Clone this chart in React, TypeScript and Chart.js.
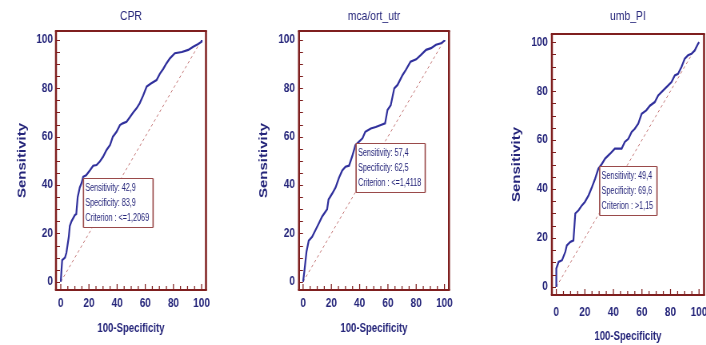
import React, { useEffect, useRef } from 'react';
import { Chart, registerables } from 'chart.js';

Chart.register(...registerables);

// ---------------- data ----------------
const cprX = [0, 0.5, 1, 3, 4, 5.7, 6.4, 7.6, 10, 11, 12, 13.5, 14.7, 15.9, 18, 20.6, 23, 25.4, 27.7, 30, 32.5, 35, 37, 39.6, 42, 44, 46.7, 49, 51.4, 53.8, 56, 58.5, 61, 64, 68, 70.3, 72.7, 75, 77.5, 81, 86, 90.5, 94, 97.6, 100, 100];
const cprY = [0, 4.8, 9, 10, 12, 18.6, 23, 25, 27.6, 28, 35, 39, 40.7, 43.4, 44, 46, 48, 48.3, 49.7, 51.7, 54.5, 56.6, 60, 62, 64.8, 65.5, 66.2, 68, 70, 71.7, 73.8, 77, 80.7, 82, 83.4, 86, 88, 90.3, 92.4, 94.5, 95, 95.9, 97.2, 98.3, 99.3, 100];

const mcaX = [0, 1, 2.4, 4, 6.4, 8.8, 11, 13.5, 17, 18, 20.6, 23, 25.4, 27.7, 30, 32.5, 34.8, 37, 39.6, 42, 44, 47.9, 51.4, 55, 58, 59.7, 62, 64.5, 66.8, 70.4, 72.7, 76, 80, 83.4, 87, 90.5, 94, 97.6, 100, 100];
const mcaY = [0, 4.8, 12.4, 17, 18.6, 21.4, 24, 27, 30, 34, 36.5, 39, 43, 46, 47.6, 48, 52, 56.5, 58, 59.3, 62, 63.4, 64, 64.8, 65.5, 71, 73, 80, 81.4, 85.5, 87.6, 91, 92, 93.8, 95.9, 96.6, 98, 98.6, 99.7, 100];

const umbX = [0, 0, 1.6, 4, 6.3, 7.4, 9.8, 12, 13.3, 15.6, 17.9, 20, 22.6, 25, 27.2, 29.5, 32, 34.2, 37.7, 41, 45.8, 48, 50.5, 52.8, 55, 57.4, 59.8, 63, 65.6, 69, 71.4, 74.9, 78.4, 80.7, 83, 85.3, 87.7, 90, 92.3, 94.7, 97, 99.3, 100];
const umbY = [0, 7.5, 10.2, 10.9, 14.3, 17, 18.4, 19, 30, 31.3, 33.3, 34.7, 37.4, 40.8, 44.2, 48.3, 50.3, 52.4, 54.4, 56.5, 56.5, 59.2, 60.5, 63.3, 64.6, 66.7, 70.7, 72.1, 74, 75.5, 78.2, 80.3, 82.3, 83.7, 86.4, 87, 89.8, 93.2, 94.6, 95.2, 96.6, 99.3, 100];

const panelTitles = ['CPR', 'mca/ort_utr', 'umb_PI'];
const sensitivities = [42.9, 57.4, 49.4];
const specificities = [83.9, 62.5, 69.6];
const criteria = ['<=1,2069', '<=1,4118', '>1,15'];

const majorTicks = [0, 20, 40, 60, 80, 100];
const minorTicks = [0, 5, 10, 15, 20, 25, 30, 35, 40, 45, 50, 55, 60, 65, 70, 75, 80, 85, 90, 95, 100];
const diagonal = [0, 100];

const xAxisTitle = '100-Specificity';
const yAxisTitle = 'Sensitivity';

// ---------------- styles / layout ----------------
const TEXT = '#25257a';
const LINE = '#30309c';
const MAROON = '#7f1f1f';
const DIAG = '#c27272';
const BOX = '#9a4a4a';
const FONT = "'Liberation Sans', Arial, sans-serif";
const H = 345;
const S = 0.8; // horizontal squeeze of the drawing (canvas drawn wider, shown narrower)

const layouts = [
  { left: 0, width: 240, plotLeft: 56, plotRight: 206, plotTop: 31, plotBottom: 290, xMin: -3.4, xMax: 103.1, yMin: -3.4, yMax: 103.7, yTitleX: 22, yTickPad: 3, xTickPad: 6.5, titleY: 16, xTitleY: 329 },
  { left: 240, width: 240, plotLeft: 59, plotRight: 209, plotTop: 31, plotBottom: 290, xMin: -2.9, xMax: 103.2, yMin: -3.4, yMax: 103.7, yTitleX: 24, yTickPad: 4, xTickPad: 6.5, titleY: 16, xTitleY: 329 },
  { left: 480, width: 226, plotLeft: 72, plotRight: 224, plotTop: 34, plotBottom: 295, xMin: -3.1, xMax: 103.5, yMin: -3.3, yMax: 103.3, yTitleX: 37, yTickPad: 4, xTickPad: 10, titleY: 16, xTitleY: 337 },
];

const framePlugin = {
  id: 'rocFrame',
  afterDatasetsDraw(chart: any) {
    const { ctx, chartArea: a, scales } = chart;
    const xs = scales.x, ys = scales.y;
    ctx.save();
    ctx.strokeStyle = MAROON;
    minorTicks.forEach((v) => {
      ctx.lineWidth = 1;
      const py = Math.round(ys.getPixelForValue(v)) + 0.5;
      ctx.beginPath();
      ctx.moveTo(a.left, py);
      ctx.lineTo(a.left + 4 / S, py);
      ctx.stroke();
      ctx.lineWidth = 1 / S;
      const px = xs.getPixelForValue(v);
      const len = v % 20 === 0 ? 6 : 4;
      ctx.beginPath();
      ctx.moveTo(px, a.bottom);
      ctx.lineTo(px, a.bottom - len);
      ctx.stroke();
    });
    // frame: horizontal edges
    ctx.lineWidth = 2;
    ctx.beginPath();
    ctx.moveTo(a.left - 1 / S, a.top);
    ctx.lineTo(a.right + 1 / S, a.top);
    ctx.moveTo(a.left - 1 / S, a.bottom);
    ctx.lineTo(a.right + 1 / S, a.bottom);
    ctx.stroke();
    // frame: vertical edges (compensate for squeeze)
    ctx.lineWidth = 2 / S;
    ctx.beginPath();
    ctx.moveTo(a.left, a.top);
    ctx.lineTo(a.left, a.bottom);
    ctx.moveTo(a.right, a.top);
    ctx.lineTo(a.right, a.bottom);
    ctx.stroke();
    ctx.restore();
  },
};

const boxPlugin = {
  id: 'rocBox',
  afterDraw(chart: any, _args: any, opts: any) {
    if (!opts || !opts.lines) return;
    const { ctx, scales } = chart;
    const bx = scales.x.getPixelForValue(opts.x);
    const by = Math.round(scales.y.getPixelForValue(opts.y)) + 0.5;
    const squeeze = 0.9;
    ctx.save();
    ctx.font = `10px ${FONT}`;
    const maxW = Math.max(...opts.lines.map((l: string) => ctx.measureText(l).width)) * squeeze;
    const w = maxW + 6 / S;
    const h = 49;
    ctx.fillStyle = '#ffffff';
    ctx.fillRect(bx, by, w, h);
    ctx.strokeStyle = BOX;
    ctx.lineWidth = 1;
    ctx.beginPath();
    ctx.moveTo(bx, by);
    ctx.lineTo(bx + w, by);
    ctx.moveTo(bx, by + h);
    ctx.lineTo(bx + w, by + h);
    ctx.stroke();
    ctx.lineWidth = 1.3 / S;
    ctx.beginPath();
    ctx.moveTo(bx, by);
    ctx.lineTo(bx, by + h);
    ctx.moveTo(bx + w, by);
    ctx.lineTo(bx + w, by + h);
    ctx.stroke();
    ctx.fillStyle = TEXT;
    ctx.textBaseline = 'middle';
    opts.lines.forEach((l: string, i: number) => {
      ctx.save();
      ctx.translate(bx + 2 / S, by + 9.5 + i * 15);
      ctx.scale(squeeze, 1);
      ctx.fillText(l, 0, 0);
      ctx.restore();
    });
    ctx.restore();
  },
};

function RocPanel({ idx }: { idx: number }) {
  const ref = useRef<HTMLCanvasElement>(null);
  const L = layouts[idx];
  const innerW = Math.round(L.width / S);
  useEffect(() => {
    const xs = [cprX, mcaX, umbX][idx];
    const ysArr = [cprY, mcaY, umbY][idx];
    const curve = xs.map((x, i) => ({ x, y: ysArr[i] }));
    const diag = diagonal.map((v) => ({ x: v, y: v }));
    const titleLH = 13 * 1.2;
    const yTitleLH = 15 * 1.2;
    const xTitleLH = 12 * 1.2;
    const tickFont = { family: FONT, size: 12.5, weight: 'bold' as const, lineHeight: 1.2 };
    const chart = new Chart(ref.current as HTMLCanvasElement, {
      type: 'scatter',
      data: {
        datasets: [
          { data: curve, borderColor: LINE, borderWidth: 2.2, showLine: true, pointRadius: 0, order: 1 },
          { data: diag, borderColor: DIAG, borderWidth: 1, borderDash: [3, 3], showLine: true, pointRadius: 0, order: 2 },
        ],
      },
      options: {
        responsive: false,
        animation: false,
        devicePixelRatio: 1,
        layout: { padding: { left: 0, right: (L.width - L.plotRight) / S, top: 0, bottom: 0 } },
        plugins: {
          legend: { display: false },
          tooltip: { enabled: false },
          title: {
            display: true,
            text: panelTitles[idx],
            color: TEXT,
            fullSize: false,
            font: { family: FONT, size: 13, weight: 'normal', lineHeight: 1.2 },
            padding: { top: L.titleY - titleLH / 2, bottom: L.plotTop - L.titleY - titleLH / 2 },
          },
          rocBox: {
            x: 100 - specificities[idx],
            y: sensitivities[idx],
            lines: [
              `Sensitivity: ${String(sensitivities[idx]).replace('.', ',')}`,
              `Specificity: ${String(specificities[idx]).replace('.', ',')}`,
              `Criterion : ${criteria[idx]}`,
            ],
          },
        } as any,
        scales: {
          x: {
            type: 'linear',
            min: L.xMin,
            max: L.xMax,
            afterBuildTicks: (s: any) => { s.ticks = majorTicks.map((v) => ({ value: v })); },
            afterFit: (s: any) => { s.height = H - L.plotBottom; s.paddingLeft = 0; s.paddingRight = 0; },
            grid: { display: false, drawTicks: false },
            border: { display: false },
            ticks: { color: TEXT, font: tickFont, padding: L.xTickPad, maxRotation: 0, autoSkip: false },
            title: {
              display: true,
              text: xAxisTitle,
              color: TEXT,
              font: { family: FONT, size: 12, weight: 'bold', lineHeight: 1.2 },
              padding: { top: 0, bottom: H - L.xTitleY - xTitleLH / 2 },
            },
          },
          y: {
            type: 'linear',
            min: L.yMin,
            max: L.yMax,
            afterBuildTicks: (s: any) => { s.ticks = majorTicks.map((v) => ({ value: v })); },
            afterFit: (s: any) => { s.width = L.plotLeft / S; },
            grid: { display: false, drawTicks: false },
            border: { display: false },
            ticks: { color: TEXT, font: tickFont, padding: L.yTickPad / S, autoSkip: false },
            title: {
              display: true,
              text: yAxisTitle,
              color: TEXT,
              font: { family: FONT, size: 15, weight: 'bold', lineHeight: 1.2 },
              padding: { top: L.yTitleX / S - yTitleLH / 2, bottom: 0 },
            },
          },
        },
      },
      plugins: [framePlugin, boxPlugin],
    } as any);
    return () => chart.destroy();
  }, [idx]);
  return (
    <canvas
      ref={ref}
      width={innerW}
      height={H}
      style={{ position: 'absolute', left: L.left, top: 0, width: L.width, height: H }}
    />
  );
}

export default function App() {
  return (
    <div style={{ position: 'absolute', left: 0, top: 0, width: 706, height: H, background: '#ffffff', overflow: 'hidden' }}>
      {[0, 1, 2].map((i) => (
        <RocPanel key={i} idx={i} />
      ))}
    </div>
  );
}
